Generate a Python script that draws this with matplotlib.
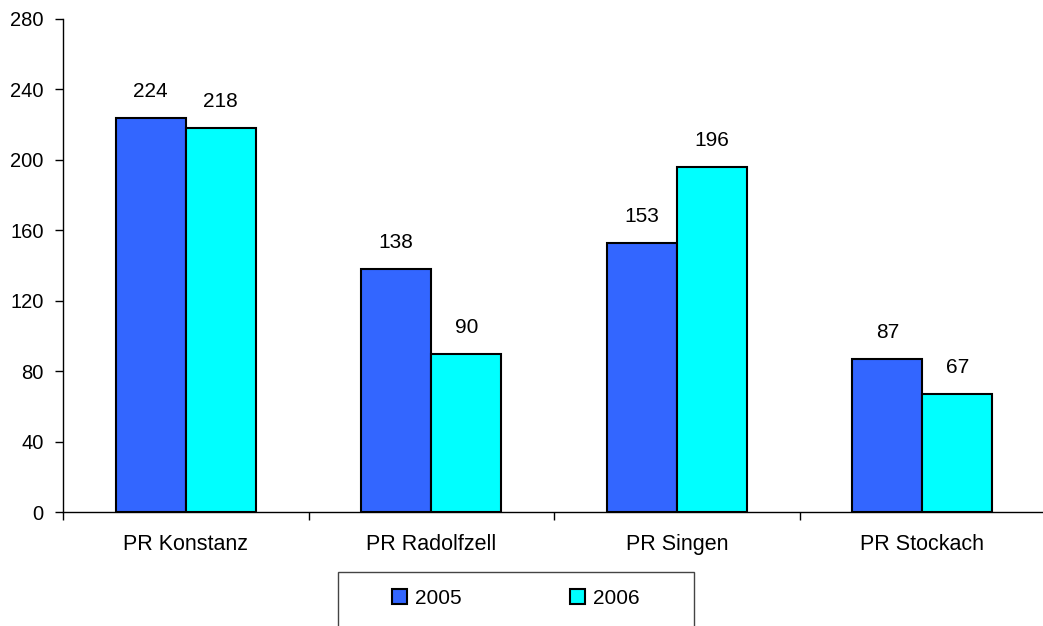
import numpy as np
import matplotlib.pyplot as plt
from matplotlib.patches import Rectangle

plt.rcParams['font.family'] = ['Liberation Sans', 'DejaVu Sans']

categories = ['PR Konstanz', 'PR Radolfzell', 'PR Singen', 'PR Stockach']
series_names = ['2005', '2006']
values_2005 = [224, 138, 153, 87]
values_2006 = [218, 90, 196, 67]
colors = ['#3366FF', '#00FFFF']

fig = plt.figure(figsize=(10.43, 6.26), dpi=100)
ax = fig.add_axes([63 / 1043, 114 / 626, 982 / 1043, 493 / 626])

x = np.arange(len(categories))
w = 0.285
bars = []
for i, (vals, col, name) in enumerate(zip([values_2005, values_2006], colors, series_names)):
    b = ax.bar(x + (i - 0.5) * w, vals, w, color=col, edgecolor='black',
               linewidth=1.5, label=name)
    ax.bar_label(b, padding=12, fontsize=15)
    bars.append(b)

ax.set_xlim(-0.5, 3.5)
ax.set_ylim(0, 280)
ax.set_yticks(np.arange(0, 281, 40))
ax.set_xticks(x)
ax.set_xticklabels(categories)
ax.set_xticks(np.arange(-0.5, 3.6, 1), minor=True)
ax.tick_params(axis='x', which='major', length=0, pad=16, labelsize=15.5)
ax.tick_params(axis='x', which='minor', length=6, width=1, direction='out')
ax.tick_params(axis='y', length=6, width=1, pad=8, labelsize=14.5)
for s in ['top', 'right']:
    ax.spines[s].set_visible(False)
for s in ['left', 'bottom']:
    ax.spines[s].set_linewidth(1)

# legend box running off the bottom edge
fig.patches.append(Rectangle((338 / 1043, -0.05), 356 / 1043, (626 - 572) / 626 + 0.05,
                             transform=fig.transFigure, fill=False,
                             edgecolor='#444444', linewidth=1))
fig.legend(handles=bars, labels=series_names, loc='center',
           bbox_to_anchor=(516 / 1043, 1 - 598 / 626), ncol=2, frameon=False,
           fontsize=15, handlelength=0.7, handleheight=0.7, handletextpad=0.4,
           columnspacing=5.2)

fig.savefig('out.png', dpi=100)
